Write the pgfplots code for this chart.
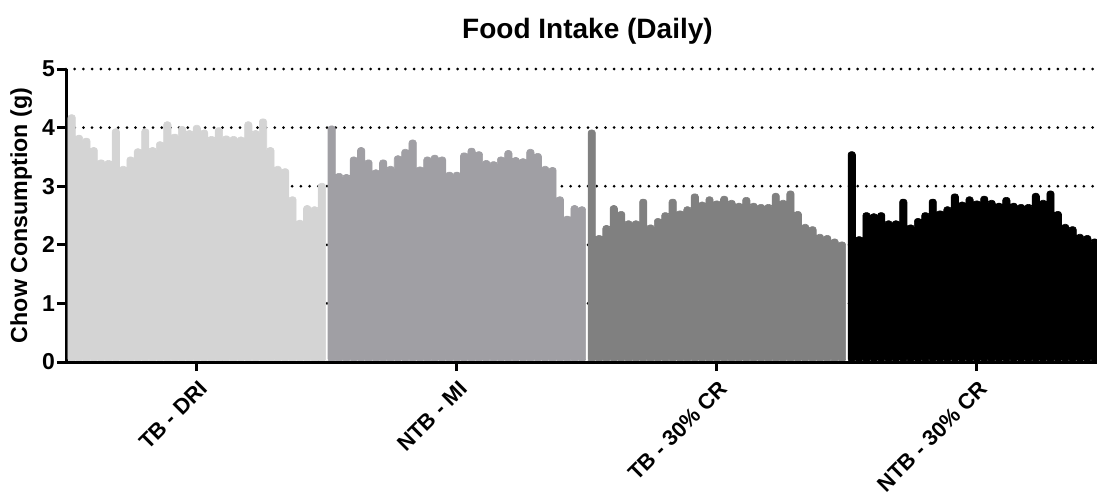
\documentclass[border=0pt]{standalone}
\usepackage{pgfplots}
\usepackage{pgfplotstable}
\pgfplotsset{compat=1.18}
\usepackage{fontspec}
\setmainfont{Liberation Sans}
\definecolor{gA}{RGB}{212,212,212}
\definecolor{gB}{RGB}{160,159,164}
\definecolor{gC}{RGB}{128,128,128}
\definecolor{gD}{RGB}{0,0,0}

\pgfplotstableread{
y
4.22
3.87
3.82
3.66
3.45
3.44
3.98
3.34
3.50
3.64
3.98
3.66
3.76
4.10
3.89
4.02
3.95
4.04
3.96
3.85
4.00
3.86
3.85
3.84
4.10
3.95
4.15
3.66
3.34
3.30
2.82
2.42
2.67
2.65
3.05
}\tbdri

\pgfplotstableread{
y
4.03
3.22
3.20
3.50
3.66
3.45
3.28
3.45
3.34
3.52
3.63
3.79
3.33
3.50
3.53
3.50
3.24
3.24
3.57
3.65
3.59
3.44
3.42
3.50
3.61
3.49
3.47
3.63
3.56
3.34
3.32
2.82
2.49
2.67
2.65
}\ntbmi

\pgfplotstableread{
y
3.96
2.16
2.33
2.67
2.57
2.41
2.41
2.78
2.34
2.45
2.55
2.78
2.58
2.65
2.87
2.73
2.82
2.75
2.83
2.76
2.71
2.81
2.71
2.69
2.69
2.88
2.76
2.92
2.57
2.35
2.31
2.18
2.16
2.10
2.05
}\tbcr

\pgfplotstableread{
y
3.59
2.14
2.55
2.53
2.55
2.41
2.41
2.78
2.34
2.45
2.55
2.78
2.58
2.65
2.87
2.73
2.82
2.75
2.83
2.76
2.71
2.81
2.71
2.69
2.69
2.88
2.76
2.92
2.57
2.35
2.31
2.18
2.16
2.10
2.07
}\ntbcr

\begin{document}
\begin{tikzpicture}
\begin{axis}[
  name=ax,
  width=515.5pt, height=146.5pt, scale only axis,
  xmin=-0.77, xmax=139.31, ymin=0, ymax=5,
  axis lines*=left,
  axis line style={line width=1.5pt, black},
  ytick={0,1,2,3,4,5},
  xtick={17,52.33,87.66,122.99},
  xticklabels={TB - DRI, NTB - MI, TB - 30\% CR, NTB - 30\% CR},
  tick style={line width=1.5pt, black},
  major tick length=4.5pt,
  tick align=outside,
  minor tick num=0,
  ymajorgrids,
  grid style={black, line width=1.5pt, dash pattern=on 0pt off 4.35pt, line cap=round},
  /pgf/number format/assume math mode=true,
  yticklabel style={font=\fontsize{11.5}{13}\selectfont\bfseries, xshift=2.5pt},
  xticklabel style={font=\fontsize{10.9}{13}\selectfont\bfseries, rotate=45, anchor=north east, xshift=1pt},
  title={Food Intake (Daily)},
  title style={font=\fontsize{14}{16}\selectfont\bfseries, at={(axis description cs:0.5058,1)}, anchor=base, yshift=9.5pt},
  ylabel={Chow Consumption (g)},
  ylabel style={font=\fontsize{11.6}{14}\selectfont\bfseries, at={(axis description cs:-0.0436,0.5)}, anchor=center},
  clip=true,
]
\addplot[ybar, bar width=1, bar shift=0pt, fill=gA, draw=gA, line width=0.3pt, rounded corners=1.5pt]
  table[x expr=\coordindex, y=y]{\tbdri};
\addplot[ybar, bar width=1, bar shift=0pt, fill=gB, draw=gB, line width=0.3pt, rounded corners=1.5pt]
  table[x expr=\coordindex+35.33, y=y]{\ntbmi};
\addplot[ybar, bar width=1, bar shift=0pt, fill=gC, draw=gC, line width=0.3pt, rounded corners=1.5pt]
  table[x expr=\coordindex+70.66, y=y]{\tbcr};
\addplot[ybar, bar width=1, bar shift=0pt, fill=gD, draw=gD, line width=0.3pt, rounded corners=1.5pt]
  table[x expr=\coordindex+105.99, y=y]{\ntbcr};
\draw[line width=1.5pt, black] (rel axis cs:0,0) -- (rel axis cs:1,0);
\end{axis}
\pgfresetboundingbox
\path[use as bounding box] ([xshift=-33pt,yshift=-66pt]ax.south west) rectangle ([yshift=34.5pt]ax.north east);
\end{tikzpicture}
\end{document}
